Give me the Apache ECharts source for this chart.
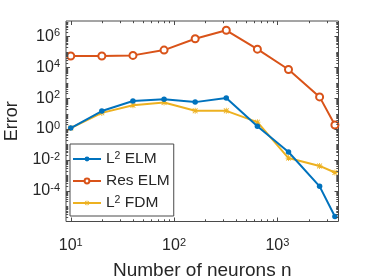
<!DOCTYPE html>
<html>
<head>
<meta charset="utf-8">
<script src="https://cdn.jsdelivr.net/npm/echarts@6/dist/echarts.min.js"></script>
<style>html,body{margin:0;padding:0;background:#fff;}#c{width:374px;height:280px;}</style>
</head>
<body>
<div id="c"></div>
<script>
// ---- data ----
const neurons = [10, 20, 40, 80, 160, 320, 640, 1280, 2560, 3600];
const l2Elm = [1.15, 14.5, 65, 83, 55, 100, 1.5, 0.032, 1.9e-4, 2.1e-6];
const resElm = [5.4e4, 5.4e4, 5.9e4, 1.3e5, 7.1e5, 2.5e6, 1.5e5, 7.2e3, 120, 1.8];
const l2Fdm = [1.15, 11, 34, 52, 15, 15, 2.75, 0.013, 4.0e-3, 1.5e-3];
const seriesNames = ['L2 ELM', 'Res ELM', 'L2 FDM'];
const xTickLabels = [10, 100, 1000];
const yTickLabels = [1e-4, 1e-2, 1, 1e2, 1e4, 1e6];
const xLimits = [9, 3900];
const yLimits = [1e-6, 1e7];
const xDecades = [10, 100, 1000];
const yExponents = [-6, -5, -4, -3, -2, -1, 0, 1, 2, 3, 4, 5, 6];

// ---- tick marks (MATLAB style, inside, on all four sides) ----
const tickData = [];
xDecades.forEach(d => {
  for (let m = 1; m <= 9; m++) {
    const v = m * d;
    if (v > xLimits[0] && v < xLimits[1]) tickData.push([v, yLimits[0], 0, m === 1 ? 4 : 2.2]);
  }
});
yExponents.forEach(e => {
  for (let m = 1; m <= 9; m++) {
    const v = m * Math.pow(10, e);
    if (v > yLimits[0] && v < yLimits[1]) {
      const major = (m === 1 && e % 2 === 0);
      tickData.push([xLimits[0], v, 1, major ? 4 : 2.2]);
    }
  }
});

const TXT = '#262626';
const AX = '#4a4a4a';
const FONT = 'Liberation Sans';

function powLabel(v) {
  const r = Math.round(Math.log10(v));
  return '{b|10}{s|' + r + '}';
}
const labelRich = {
  b: {fontSize: 16, lineHeight: 17, color: TXT, fontFamily: FONT},
  s: {fontSize: 11, lineHeight: 9, color: TXT, fontFamily: FONT, verticalAlign: 'top'}
};

const asterisk = 'path://M4.3,0L5.7,0L5.7,10L4.3,10Z M0,4.3L10,4.3L10,5.7L0,5.7Z M0.5,1.5L1.5,0.5L9.5,8.5L8.5,9.5Z M8.5,0.5L9.5,1.5L1.5,9.5L0.5,8.5Z';

const chart = echarts.init(document.getElementById('c'), null, {renderer: 'canvas'});
chart.setOption({
  animation: false,
  backgroundColor: '#fff',
  grid: {left: 66, right: 35.5, top: 21, bottom: 58.5, containLabel: false, outerBoundsMode: 'none',
    show: true, borderColor: AX, borderWidth: 1, backgroundColor: '#fff'},
  xAxis: {
    type: 'log', logBase: 10, min: xLimits[0], max: xLimits[1],
    axisLine: {show: false}, axisTick: {show: false}, splitLine: {show: false}, minorTick: {show: false},
    name: 'Number of neurons n', nameLocation: 'middle', nameGap: 40,
    nameTextStyle: {fontFamily: FONT, fontSize: 19, color: TXT},
    axisLabel: {customValues: xTickLabels, margin: 16, formatter: powLabel, color: TXT, fontFamily: FONT, rich: labelRich}
  },
  yAxis: {
    type: 'log', logBase: 10, min: yLimits[0], max: yLimits[1],
    axisLine: {show: false}, axisTick: {show: false}, splitLine: {show: false}, minorTick: {show: false},
    name: 'Error', nameLocation: 'middle', nameGap: 43,
    nameTextStyle: {fontFamily: FONT, fontSize: 18, color: TXT},
    axisLabel: {customValues: yTickLabels, margin: 6, formatter: powLabel, color: TXT, fontFamily: FONT, rich: labelRich}
  },
  legend: {
    orient: 'vertical', left: 70, top: 144,
    data: seriesNames,
    backgroundColor: '#fff', borderColor: AX, borderWidth: 1,
    padding: [7, 4, 5, 2],
    itemWidth: 28, itemHeight: 6, itemGap: 6,
    textStyle: {fontFamily: FONT, fontSize: 15.5, color: TXT,
      rich: {
        n: {fontFamily: FONT, fontSize: 15.5, lineHeight: 16, color: TXT},
        s: {fontFamily: FONT, fontSize: 10.5, lineHeight: 9, color: TXT, verticalAlign: 'top'}
      }
    },
    formatter: function (name) {
      if (name.indexOf('L2') === 0) return '{n|L}{s|2}{n|' + name.slice(2) + '}';
      return '{n|' + name + '}';
    }
  },
  series: [
    {
      name: seriesNames[0], type: 'line', data: neurons.map((x, i) => [x, l2Elm[i]]),
      color: '#0072BD', lineStyle: {width: 2, color: '#0072BD'},
      symbol: 'circle', symbolSize: 5.5, itemStyle: {color: '#0072BD'}, z: 3
    },
    {
      name: seriesNames[1], type: 'line', data: neurons.map((x, i) => [x, resElm[i]]),
      color: '#D95319', lineStyle: {width: 2, color: '#D95319'},
      symbol: 'emptyCircle', symbolSize: 7, itemStyle: {color: '#D95319', borderColor: '#D95319', borderWidth: 1.6}, z: 2
    },
    {
      name: seriesNames[2], type: 'line', data: neurons.map((x, i) => [x, l2Fdm[i]]),
      color: '#EDB120', lineStyle: {width: 2, color: '#EDB120'},
      symbol: asterisk, symbolSize: 6,
      itemStyle: {color: '#EDB120'}, z: 2
    },
    {
      type: 'custom', silent: true, clip: false, z: 5,
      data: tickData,
      encode: {x: 0, y: 1},
      renderItem: function (params, api) {
        const kind = api.value(2), len = api.value(3);
        const style = {stroke: AX, lineWidth: 1};
        if (kind === 0) {
          const v = api.value(0);
          const p1 = api.coord([v, yLimits[0]]), p2 = api.coord([v, yLimits[1]]);
          const x = Math.round(p1[0]) + 0.5;
          return {type: 'group', children: [
            {type: 'line', shape: {x1: x, y1: p1[1], x2: x, y2: p1[1] - len}, style: style},
            {type: 'line', shape: {x1: x, y1: p2[1], x2: x, y2: p2[1] + len}, style: style}
          ]};
        } else {
          const w = api.value(1);
          const p1 = api.coord([xLimits[0], w]), p2 = api.coord([xLimits[1], w]);
          const y = Math.round(p1[1]) + 0.5;
          return {type: 'group', children: [
            {type: 'line', shape: {x1: p1[0], y1: y, x2: p1[0] + len, y2: y}, style: style},
            {type: 'line', shape: {x1: p2[0], y1: y, x2: p2[0] - len, y2: y}, style: style}
          ]};
        }
      }
    }
  ]
});
</script>
</body>
</html>
